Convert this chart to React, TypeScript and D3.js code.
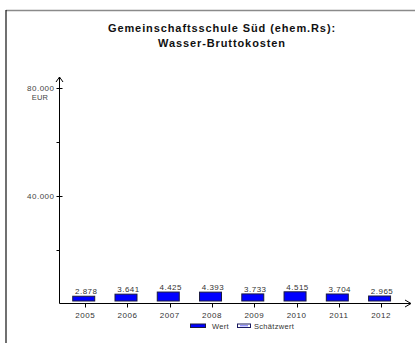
import React from "react";
import * as d3 from "d3";

const years = ["2005", "2006", "2007", "2008", "2009", "2010", "2011", "2012"];
const values = [2878, 3641, 4425, 4393, 3733, 4515, 3704, 2965];
const majorTicks = [40000, 80000];
const minorTicks = [20000, 60000];
const titleLines = ["Gemeinschaftsschule Süd (ehem.Rs):", "Wasser-Bruttokosten"];
const legendItems = ["Wert", "Schätzwert"];
const unit = "EUR";

const W = 415;
const H = 343;
const font = "Arial, 'Liberation Sans', sans-serif";
const fmt = (v: number) => d3.format(",")(v).replace(/,/g, ".");

export default function App() {
  const axisX = 59.5;
  const axisY = 303.5;
  const y = d3.scaleLinear().domain([0, 80000]).range([304, 88]);
  const x = d3.scaleBand<string>().domain(years).range([62.6, 400.7]).paddingInner(0.48).paddingOuter(0.24);
  const bw = x.bandwidth();
  const center = (c: string) => (x(c) as number) + bw / 2;
  const small = { fontFamily: font, fontSize: 8, fill: "#333", letterSpacing: 0.5 } as const;

  return (
    <svg width={W} height={H} style={{ position: "absolute", left: 0, top: 0, background: "#fff" }}>
      {/* frame */}
      <line x1={6} y1={10.5} x2={W} y2={10.5} stroke="#8a8a8a" strokeWidth={1.5} />
      <line x1={6} y1={10} x2={6} y2={H} stroke="#111" strokeWidth={1.2} />

      {/* title */}
      {titleLines.map((t, i) => (
        <text key={t} x={222} y={32 + i * 15} textAnchor="middle" fontFamily={font} fontWeight="bold" fontSize={11} letterSpacing={0.9} fill="#111">
          {t}
        </text>
      ))}

      {/* y axis */}
      <line x1={axisX} y1={axisY} x2={axisX} y2={77} stroke="#000" strokeWidth={1} />
      <path d={`M${axisX - 3.5},${82} L${axisX},${77} L${axisX + 3.5},${82}`} fill="none" stroke="#000" strokeWidth={1} />
      {majorTicks.map((t) => (
        <g key={t}>
          <line x1={axisX - 3} x2={axisX + 3} y1={Math.round(y(t)) + 0.5} y2={Math.round(y(t)) + 0.5} stroke="#000" />
          <text x={axisX - 5} y={y(t) + 3} textAnchor="end" {...small} fill="#444">
            {fmt(t)}
          </text>
        </g>
      ))}
      {minorTicks.map((t) => (
        <line key={t} x1={axisX - 3} x2={axisX} y1={Math.round(y(t)) + 0.5} y2={Math.round(y(t)) + 0.5} stroke="#000" />
      ))}
      <text x={40} y={100} textAnchor="middle" {...small} fontSize={7.5} letterSpacing={0.2} fill="#444">
        {unit}
      </text>

      {/* x axis */}
      <line x1={axisX} y1={axisY} x2={410} y2={axisY} stroke="#000" strokeWidth={1} />
      <path d={`M${405},${axisY - 3.5} L${411},${axisY} L${405},${axisY + 3.5}`} fill="none" stroke="#000" strokeWidth={1} />
      {years.map((c) => (
        <g key={c}>
          <line x1={Math.round(center(c) + 1.5) + 0.5} x2={Math.round(center(c) + 1.5) + 0.5} y1={axisY} y2={axisY + 4} stroke="#000" />
          <text x={center(c) + 1.5} y={318} textAnchor="middle" {...small}>
            {c}
          </text>
        </g>
      ))}

      {/* bars */}
      {values.map((v, i) => {
        const c = years[i];
        const top = y(v);
        const bottom = 301;
        return (
          <g key={c}>
            <rect x={x(c)} y={top} width={bw} height={bottom - top} fill="#0000ff" stroke="#1a1a40" strokeWidth={1} />
            <text x={center(c) + 2.5} y={top - 2} textAnchor="middle" {...small}>
              {fmt(v)}
            </text>
          </g>
        );
      })}

      {/* legend */}
      <rect x={190.5} y={324} width={15} height={3.5} fill="#0000ff" stroke="#1a1a40" strokeWidth={1} />
      <text x={212} y={328.5} {...small} fontSize={7.5} letterSpacing={0.3}>
        {legendItems[0]}
      </text>
      <rect x={237.5} y={324} width={13} height={3.5} fill="#ffffff" stroke="#1a1a60" strokeWidth={1} />
      <line x1={240} y1={325.8} x2={248} y2={325.8} stroke="#6a6aff" strokeWidth={1} />
      <text x={254} y={328.5} {...small} fontSize={7.5} letterSpacing={0.3}>
        {legendItems[1]}
      </text>
    </svg>
  );
}
